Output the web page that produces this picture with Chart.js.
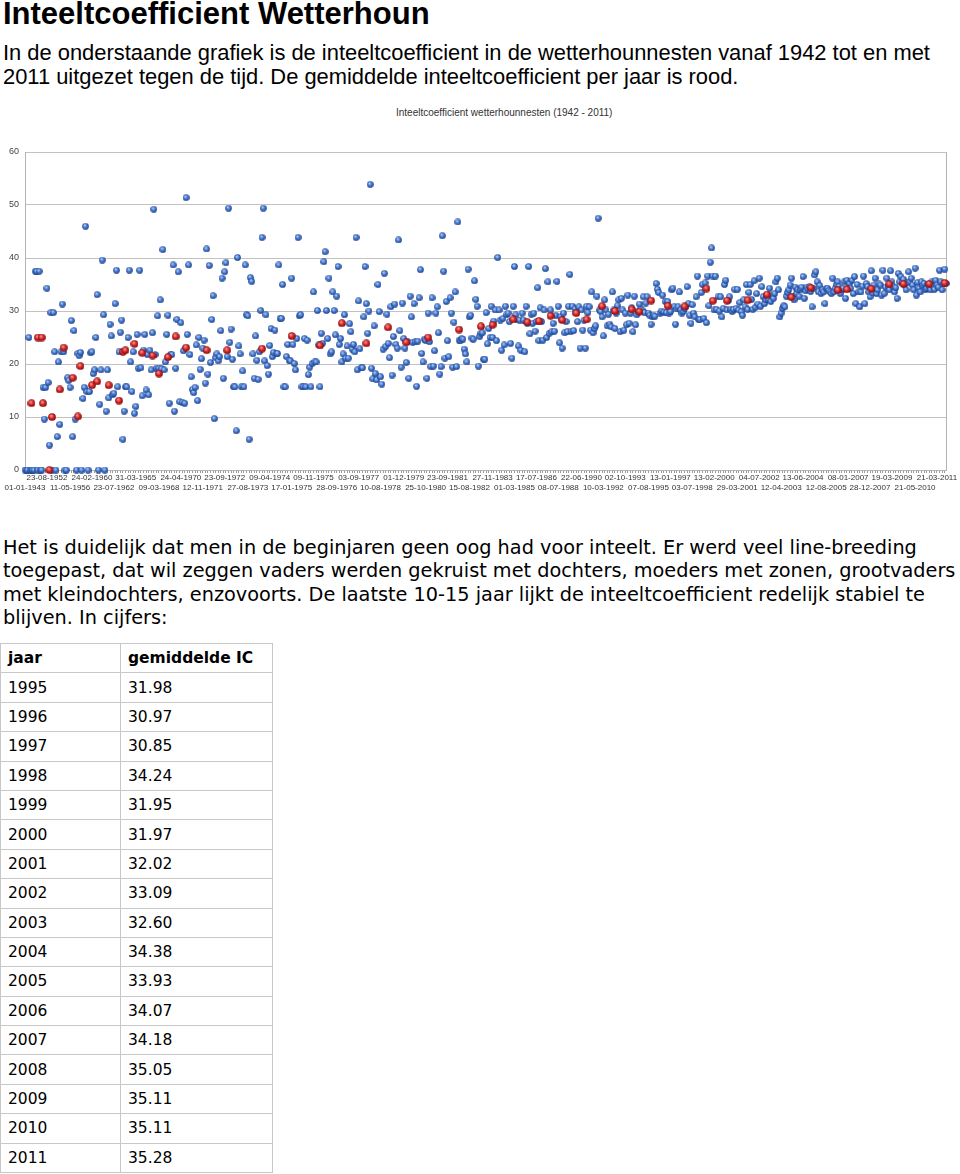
<!DOCTYPE html>
<html>
<head>
<meta charset="utf-8">
<script src="https://cdn.jsdelivr.net/npm/chart.js@4.4.1/dist/chart.umd.min.js"></script>
<style>
  html, body { margin: 0; padding: 0; background: #fff; }
  body { width: 960px; height: 1174px; position: relative; overflow: hidden; color: #000; }
  #h1 { position: absolute; left: 3px; top: -3px; margin: 0; font: bold 31px/34px "Liberation Sans", Arial, sans-serif; white-space: nowrap; }
  #p1 { position: absolute; left: 3px; top: 41px; margin: 0; font: 21.9px/24px "Liberation Sans", Arial, sans-serif; white-space: nowrap; }
  #ctitle { position: absolute; left: 396px; top: 106px; font: 10px/14px "Liberation Sans", Arial, sans-serif; color: #333; white-space: nowrap; }
  #wrap { position: absolute; left: 0; top: 100px; width: 960px; height: 400px; }
  #p2 { position: absolute; left: 3px; top: 536px; margin: 0; font: 19.3px/23.3px "DejaVu Sans", sans-serif; white-space: nowrap; }
  #tbl { position: absolute; left: 0; top: 643px; border-collapse: collapse; font: 15.5px "DejaVu Sans", sans-serif; }
  #tbl td { border: 1px solid #c8c8c8; padding: 0 0 0 7px; height: 29.4px; box-sizing: border-box; vertical-align: middle; }
  #tbl td:first-child { width: 120px; }
  #tbl td:last-child { width: 152px; }
  #tbl tr.hd td { font-weight: bold; }
</style>
</head>
<body>
<h1 id="h1">Inteeltcoefficient Wetterhoun</h1>
<p id="p1">In de onderstaande grafiek is de inteeltcoefficient in de wetterhounnesten vanaf 1942 tot en met<br>2011 uitgezet tegen de tijd. De gemiddelde inteeltcoefficient per jaar is rood.</p>
<div id="ctitle">Inteeltcoefficient wetterhounnesten (1942 - 2011)</div>
<div id="wrap"><canvas id="c" width="960" height="400"></canvas></div>
<p id="p2">Het is duidelijk dat men in de beginjaren geen oog had voor inteelt. Er werd veel line-breeding<br>toegepast, dat wil zeggen vaders werden gekruist met dochters, moeders met zonen, grootvaders<br>met kleindochters, enzovoorts. De laatste 10-15 jaar lijkt de inteeltcoefficient redelijk stabiel te<br>blijven. In cijfers:</p>
<table id="tbl"></table>
<script>
// ---- tick labels (date of nest), alternating lower / upper row ----
const tickDates = ['01-01-1943','23-08-1952','11-05-1956','24-02-1960','23-07-1962','31-03-1965','09-03-1968','24-04-1970','12-11-1971','23-09-1972','27-08-1973','09-04-1974','17-01-1975','09-11-1975','28-09-1976','03-09-1977','10-08-1978','01-12-1979','25-10-1980','23-09-1981','15-08-1982','27-11-1983','01-03-1985','17-07-1986','08-07-1988','22-06-1990','10-03-1992','02-10-1993','07-08-1995','13-01-1997','03-07-1998','13-02-2000','29-03-2001','04-07-2002','12-04-2003','13-06-2004','12-08-2005','08-01-2007','28-12-2007','19-03-2009','21-05-2010','21-03-2011'];

// ---- inbreeding coefficient per nest (blue), in date order ----
const nests1943to1971 = [0,0,0,25.0,0,0,0,0,37.5,37.5,0,37.5,0,0,
15.6,9.6,15.6,34.3,16.5,4.7,29.7,0,29.7,22.3,0,6.3,20.4,8.6,22.3,31.3,22.3,0,0,17.4,
16.9,15.6,28.2,6.3,26.3,9.6,0,22.0,21.6,22.2,0,13.5,15.6,46.0,14.8,0,14.8,22.1,22.3,18.2,18.9,
25.0,33.1,0,12.4,18.9,39.6,29.3,0,11.1,18.9,13.6,27.5,25.3,14.2,14.5,31.4,37.7,15.7,22.3,26.0,
28.3,5.8,11.1,15.7,15.7,25.0,37.7,20.4,14.8,22.3,10.7,12.0,25.6,19.2,37.7,19.3,14.0,22.6,25.6,15.1,
21.8,14.2,22.6,18.9,25.9,49.2,21.8,19.2,29.1,19.2,32.1,19.1,41.6,18.9,20.4,25.6,29.2,12.6,21.8,21.8,
38.7,11.1,19.2,28.4,37.4,12.9,27.8,12.8,22.5,12.6,51.4,25.6,38.7,21.8,17.6,15.2,14.6,15.6,23.6,13.1,25.0,19.0,21.0,23.0,24.5];
const nests1971to1978 = [16.4,41.7,18.1,38.6,20.3,28.4,32.9,9.7,21.2,21.9,20.6,21.4,26.3,36.2,17.3,37.4,39.1,21.4,49.4,24.1,
26.6,20.9,15.7,15.7,7.4,40.1,23.4,21.9,15.7,18.7,15.7,38.7,29.3,29.1,5.8,36.3,35.6,21.9,17.3,25.3,
20.7,17.1,22.3,30.1,43.9,49.4,20.6,29.3,19.7,18.1,23.5,26.7,21.4,22.2,26.4,21.9,22.0,38.7,28.6,28.6,
35.0,15.7,15.7,21.4,23.7,20.7,20.6,36.2,23.7,20.1,18.9,24.8,43.9,29.1,29.3,15.7,15.7,24.8,15.7,24.5,
18.0,19.4,15.7,20.1,33.6,20.4,20.4,30.1,23.6,15.7,25.8,23.9,39.3,41.2,30.1,24.8,36.2,21.9,22.3,33.6,
30.1,25.5,32.8,38.4,23.7,24.8,20.4,21.9,29.3,21.1,23.4,21.1,27.6,26.1,22.8,23.7,22.3,43.9,18.9,31.9,
22.9,19.3,19.3,28.9,38.4,31.4,25.8,30.0,53.9,19.2,17.2,27.2,18.2,17.0,35.0,29.9,17.6,16.2,22.8,37.1,23.3,
29.4,23.9,21.2,30.8,17.9,25.2];
const nests1978to1988 = [31.3,23.7,23.0,43.4,26.3,19.4,31.5,24.8,23.0,20.3,
24.2,17.3,32.8,28.9,24.1,31.4,24.2,15.8,24.3,32.5,
37.8,22.0,20.4,24.7,24.5,17.3,29.6,24.2,19.5,32.5,
19.6,22.5,29.6,30.8,25.9,18.1,19.5,44.2,37.5,21.1,
31.8,24.4,21.4,32.5,29.6,19.4,27.9,33.6,19.5,46.8,
24.5,24.4,24.8,24.7,22.8,21.9,20.4,37.9,28.9,29.2,
24.9,24.7,35.7,32.2,30.9,19.6,25.2,25.8,25.9,20.9,
20.9,29.7,23.8,26.7,25.0,30.9,25.0,28.1,30.2,24.4,
40.1,30.2,28.3,22.6,28.6,23.6,30.9,29.3,29.6,28.0,
23.9,21.1,30.9,38.4,29.3,28.4,23.4,28.3,22.6,29.6,
28.3,22.3,30.9,27.7,38.4,25.7,29.4,27.7,29.6,26.2,
28.0,34.4,24.4,30.6,28.0,24.5,30.2,38.0,25.0,35.5,
25.8,30.2,26.1,27.7,26.2,29.2,35.6,30.9,24.0,28.9,
23.0,29.6,25.9,28.0,26.1,30.9,36.9,26.2,30.9,26.3,
30.4,29.8,28.0,30.8,23.0,30.2,26.4];
const nests1988to2002 = [28.3,23.0,30.9,29.7,30.8,26.4,33.6,25.9,26.7,27.2,
32.8,47.5,30.2,29.9,28.9,25.3,32.1,30.2,27.2,29.4,
27.5,27.0,33.6,30.2,26.7,29.6,31.0,32.1,26.1,32.4,30.2,
26.4,29.6,27.4,33.0,27.7,29.6,30.6,26.1,32.8,27.4,29.3,
29.9,31.3,30.3,30.2,32.7,29.7,31.5,32.7,29.6,29.2,27.5,
28.9,29.2,29.0,35.2,34.1,33.5,29.6,30.0,33.0,29.8,31.8,
29.7,31.8,29.6,29.9,34.0,34.3,30.8,27.5,30.4,30.8,33.6,
30.2,29.6,29.9,30.5,30.8,34.6,31.4,29.2,27.7,31.2,29.6,
28.9,32.7,36.6,28.4,28.4,33.5,35.0,28.6,35.3,27.8,
36.6,31.0,39.2,41.9,36.6,30.2,36.6,30.3,32.7,30.0,32.7,
28.9,30.5,35.0,35.8,30.2,32.0,32.7,30.3,29.9,30.3,34.1,
30.5,34.1,30.2,31.6,29.9,29.2,32.1,30.8,35.0,30.3,33.5,
35.0,32.2,30.3,35.7,30.7,33.3,31.3,36.2,30.9,34.6,32.7,
31.4,32.1];
const nests2002to2011 = [32.7,32.2,34.3,31.8,33.0,32.4,33.3,35.5,36.2,34.0,28.9,
29.6,30.5,31.0,30.8,32.8,33.5,34.0,34.9,36.2,32.7,32.1,
34.5,33.3,34.0,32.8,34.1,34.5,36.5,32.4,33.8,34.5,34.1,34.6,33.7,
30.8,34.3,36.8,37.4,35.5,33.6,34.8,33.3,34.0,33.6,31.4,34.2,
34.3,33.9,33.6,33.3,36.2,33.6,34.3,35.0,35.5,34.6,33.3,34.0,
34.3,35.5,32.4,35.8,34.2,35.2,34.3,35.8,33.3,36.5,31.4,35.0,
33.6,30.8,33.6,34.7,36.6,31.4,35.2,34.6,33.6,32.7,37.6,33.4,
34.9,36.2,33.3,34.0,35.1,34.9,33.0,37.7,33.3,34.5,36.2,34.6,
34.0,37.6,35.5,34.6,33.6,34.4,32.4,37.1,35.5,36.5,35.5,
36.0,34.9,34.0,35.3,37.4,35.5,36.2,34.9,34.0,38.1,33.0,35.4,
34.3,33.6,35.5,34.8,35.2,34.0,34.3,35.0,34.6,34.0,35.5,34.6,34.1,
35.8,34.9,34.5,37.7,35.5,34.0,35.1,37.9,35.2];

// ---- yearly average (red): nest position where it is plotted, and value ----
const redAt = [5,10,13,14,19,21,27,30,37,41,43,52,56,65,73,76,78,85,91,99,104,111,117,125,141,157,184,207,229,246,265,282,296,313,337,354,363,379,390,399,408,417,428,436,448,458,471,477,486,499,512,529,534,545,561,576,595,610,631,638,657,671,682,702,714];
const redIC = [12.6,25.0,25.0,12.6,0,10.0,15.2,23.1,17.4,10.1,19.6,16.0,16.7,16.0,13.1,22.3,22.6,23.8,22.1,21.6,18.2,21.3,25.2,23.1,22.6,22.6,22.9,25.3,23.5,27.7,23.9,26.9,24.1,25.0,26.5,27.1,27.4,28.4,27.9,28.1,29.1,28.3,29.6,28.4,30.9,30.0,30.3,29.9,31.98,30.97,30.85,34.24,31.95,31.97,32.02,33.09,32.60,34.38,33.93,34.07,34.18,35.05,35.11,35.11,35.28];

// ---- table ----
const tableYears = [1995,1996,1997,1998,1999,2000,2001,2002,2003,2004,2005,2006,2007,2008,2009,2010,2011];
const tableIC = ['31.98','30.97','30.85','34.24','31.95','31.97','32.02','33.09','32.60','34.38','33.93','34.07','34.18','35.05','35.11','35.11','35.28'];

const yTicks = [0,10,20,30,40,50,60];

// build table
(function(){
  const t = document.getElementById('tbl');
  let html = '<tr class="hd"><td>jaar</td><td>gemiddelde IC</td></tr>';
  tableYears.forEach((y,i) => { html += '<tr><td>' + y + '</td><td>' + tableIC[i] + '</td></tr>'; });
  t.innerHTML = html;
})();

// build chart data
const blueIC = [].concat(nests1943to1971, nests1971to1978, nests1978to1988, nests1988to2002, nests2002to2011);
const N = blueIC.length;
const catLabels = new Array(N).fill('');
const labelStep = (N - 1) * (912 / 921) / (tickDates.length - 1);
tickDates.forEach((d, k) => {
  const i = Math.round(k * labelStep);
  catLabels[i] = (k % 2 === 0) ? ['', d] : [d, ''];
});
const redSeries = new Array(N).fill(null);
redAt.forEach((i, j) => { redSeries[Math.min(i, N - 1)] = redIC[j]; });

function sphere(size, c0, c1, c2) {
  const cv = document.createElement('canvas');
  cv.width = size; cv.height = size;
  const g = cv.getContext('2d');
  const r = size / 2;
  const grad = g.createRadialGradient(r * 0.75, r * 0.65, 0.2, r, r, r);
  grad.addColorStop(0, c0);
  grad.addColorStop(0.55, c1);
  grad.addColorStop(1, c2);
  g.fillStyle = grad;
  g.beginPath(); g.arc(r, r, r - 0.15, 0, Math.PI * 2); g.fill();
  return cv;
}
const blueBall = sphere(7, '#b5cff5', '#3f74cf', '#1a3c82');
const redBall = sphere(8, '#f5a0a0', '#d42222', '#7a0808');

const frame = {
  id: 'frame',
  beforeDatasetsDraw(chart) {
    const a = chart.chartArea, ctx = chart.ctx;
    ctx.save();
    ctx.strokeStyle = '#b4b4b4';
    ctx.lineWidth = 1;
    ctx.beginPath();
    ctx.moveTo(Math.round(a.right) + 0.5, a.top);
    ctx.lineTo(Math.round(a.right) + 0.5, a.bottom);
    ctx.stroke();
    ctx.restore();
  }
};

new Chart(document.getElementById('c'), {
  type: 'line',
  data: {
    labels: catLabels,
    datasets: [
      { label: 'gemiddelde per jaar', data: redSeries, showLine: false, pointStyle: redBall, pointRadius: 4, clip: false },
      { label: 'inteeltcoefficient', data: blueIC, showLine: false, pointStyle: blueBall, pointRadius: 3.5, clip: false }
    ]
  },
  options: {
    responsive: false,
    animation: false,
    events: [],
    layout: { padding: { top: 52, right: 14, bottom: 0, left: 0 } },
    plugins: { legend: { display: false }, tooltip: { enabled: false }, title: { display: false } },
    scales: {
      x: {
        type: 'category',
        offset: false,
        grid: {
          drawOnChartArea: false, drawTicks: true, tickLength: 3,
          tickColor: (ctx) => (ctx.index % 2 === 0 ? '#9a9a9a' : 'rgba(0,0,0,0)'),
          color: '#b4b4b4'
        },
        border: { color: '#b4b4b4' },
        ticks: {
          autoSkip: false, maxRotation: 0, minRotation: 0, padding: 0,
          color: '#333', font: { family: 'Liberation Sans', size: 8 }
        },
        afterFit(s) { s.height = 30; s.paddingLeft = 0; s.paddingRight = 0; }
      },
      y: {
        min: 0, max: 60,
        afterBuildTicks(s) { s.ticks = yTicks.map(v => ({ value: v })); },
        grid: { color: '#c2c2c2', lineWidth: 1, drawTicks: false },
        border: { color: '#b4b4b4' },
        ticks: { padding: 6, color: '#444', font: { family: 'Liberation Sans', size: 9 } },
        afterFit(s) { s.width = 25; }
      }
    }
  },
  plugins: [frame]
});
</script>
</body>
</html>
